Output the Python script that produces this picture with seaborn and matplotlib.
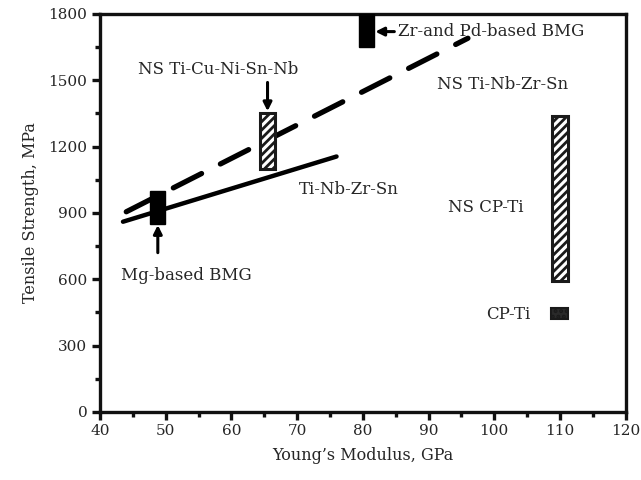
import matplotlib
matplotlib.use("Agg")
import matplotlib.pyplot as plt
import seaborn as sns
import pandas as pd
from matplotlib.ticker import MultipleLocator

# Data
solid_x = [43.5, 76.0]
solid_y = [860, 1155]
dashed_x = [44.0, 96.0]
dashed_y = [905, 1690]

bar_names = ["Mg-based BMG", "NS Ti-Cu-Ni-Sn-Nb", "Zr-and Pd-based BMG", "NS CP-Ti", "CP-Ti"]
bar_x = [48.8, 65.5, 80.5, 110.0, 110.0]
bar_low = [850, 1100, 1650, 590, 420]
bar_high = [1000, 1350, 1800, 1340, 470]
bar_style = ["solid", "hatch", "solid", "hatch", "dots"]

sns.set_style("white")
plt.rcParams["font.family"] = ["DejaVu Serif"]

fig = plt.figure(figsize=(6.41, 4.8), dpi=100)
ax = fig.add_axes([0.156, 0.142, 0.820, 0.829])

df_solid = pd.DataFrame({"x": solid_x, "y": solid_y})
df_dash = pd.DataFrame({"x": dashed_x, "y": dashed_y})
sns.lineplot(data=df_solid, x="x", y="y", ax=ax, color="black", linewidth=3.2,
             solid_capstyle="round")
sns.lineplot(data=df_dash, x="x", y="y", ax=ax, color="black", linewidth=3.8,
             dashes=False, linestyle=(0, (6, 4)), solid_capstyle="round")
ax.lines[-1].set_dash_capstyle("round")

plt.rcParams["hatch.linewidth"] = 2.0
for name, xc, lo, hi, st in zip(bar_names, bar_x, bar_low, bar_high, bar_style):
    if st == "solid":
        ax.bar(xc, hi - lo, bottom=lo, width=2.3, color="black", edgecolor="black",
               linewidth=1, zorder=3)
    elif st == "hatch":
        ax.bar(xc, hi - lo, bottom=lo, width=2.4, color="white", edgecolor="#1a1a1a",
               hatch="////", linewidth=2.2, zorder=3)
    else:
        ax.bar(xc, hi - lo, bottom=lo, width=2.6, color="#2a2a2a", edgecolor="#1a1a1a",
               hatch="...", linewidth=1.5, zorder=3)

ax.set_xlim(40, 120)
ax.set_ylim(0, 1800)
ax.xaxis.set_major_locator(MultipleLocator(10))
ax.xaxis.set_minor_locator(MultipleLocator(5))
ax.yaxis.set_major_locator(MultipleLocator(300))
ax.yaxis.set_minor_locator(MultipleLocator(150))
ax.tick_params(which="major", direction="out", length=6, width=2.4, labelsize=11,
               bottom=True, left=True, pad=3, color="#111111")
ax.tick_params(which="minor", direction="out", length=3.5, width=2.4,
               bottom=True, left=True, color="#111111")
for s in ax.spines.values():
    s.set_linewidth(2.4)
    s.set_color("#111111")

ax.set_xlabel("Young\u2019s Modulus, GPa", fontsize=11.5, labelpad=6)
ax.set_ylabel("Tensile Strength, MPa", fontsize=11.5, labelpad=7)

fs = 12
ax.text(53.2, 615, "Mg-based BMG", ha="center", va="center", fontsize=fs)
ax.text(58.0, 1547, "NS Ti-Cu-Ni-Sn-Nb", ha="center", va="center", fontsize=fs)
ax.text(85.3, 1720, "Zr-and Pd-based BMG", ha="left", va="center", fontsize=fs)
ax.text(101.3, 1479, "NS Ti-Nb-Zr-Sn", ha="center", va="center", fontsize=fs)
ax.text(77.9, 1004, "Ti-Nb-Zr-Sn", ha="center", va="center", fontsize=fs)
ax.text(98.7, 925, "NS CP-Ti", ha="center", va="center", fontsize=fs)
ax.text(102.2, 439, "CP-Ti", ha="center", va="center", fontsize=fs)

arrow = dict(arrowstyle="-|>,head_length=0.5,head_width=0.25", color="black", lw=2.2,
             shrinkA=0, shrinkB=0)
ax.annotate("", xy=(48.8, 845), xytext=(48.8, 720), arrowprops=arrow)
ax.annotate("", xy=(65.5, 1360), xytext=(65.5, 1490), arrowprops=arrow)
ax.annotate("", xy=(81.9, 1720), xytext=(84.8, 1720), arrowprops=arrow)

fig.savefig("out.png", dpi=100)
